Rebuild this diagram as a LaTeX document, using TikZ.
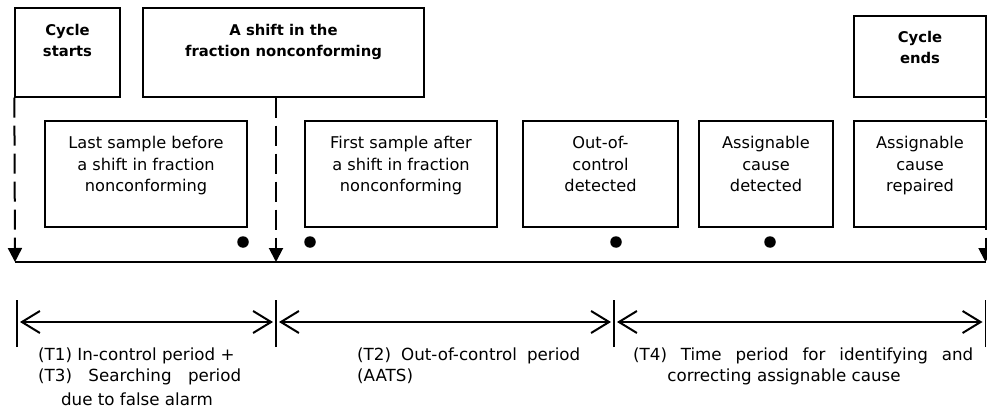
\documentclass[tikz,border=0pt]{standalone}
\usepackage{fontspec}
\setmainfont{DejaVu Sans}
\usetikzlibrary{arrows.meta}
\tikzset{
  box/.style={draw, line width=1.3pt, inner sep=0pt, minimum width=#1},
  boxtxt/.style={anchor=north, inner sep=0pt, align=center, font=\fontsize{16.2}{21.5}\selectfont},
  toptxt/.style={anchor=north, inner sep=0pt, align=center, font=\fontsize{14.8}{21}\selectfont\bfseries},
  dashline/.style={line width=2pt, dash pattern=on 20pt off 8pt, -{Triangle[length=14pt,width=14pt]}},
  axis/.style={line width=1.6pt},
  dot/.style={circle, fill, inner sep=0pt, minimum size=11.5pt},
  bar/.style={line width=1.5pt},
  period/.style={line width=2pt, {Straight Barb[length=18pt,width=22pt,line width=2pt]}-{Straight Barb[length=18pt,width=22pt,line width=2pt]}, shorten <=3pt, shorten >=3pt},
  btxt/.style={inner sep=0pt, font=\fontsize{16.7}{19}\selectfont},
}
\begin{document}
\begin{tikzpicture}[x=1pt,y=-1pt]
\useasboundingbox (0,0) rectangle (987,409);
% top boxes
\node[box=105pt, minimum height=89pt] (cs) at (67.5,52.5) {};
\node[box=281pt, minimum height=89pt] (shift) at (283.5,52.5) {};
\node[box=132pt, minimum height=81pt] (ce) at (920,56.5) {};
\node[toptxt] (cst) at ([yshift=-17pt]cs.north) {Cycle\\starts};
\node[toptxt] (sht) at ([yshift=-17pt]shift.north) {A shift in the\\fraction nonconforming};
\node[toptxt] (cet) at ([yshift=-16pt]ce.north) {Cycle\\ends};
% lower boxes
\node[box=202pt, minimum height=106pt] (lsb) at (146,174) {};
\node[box=192pt, minimum height=106pt] (fsa) at (401,174) {};
\node[box=155pt, minimum height=106pt] (ooc) at (600.5,174) {};
\node[box=134pt, minimum height=106pt] (acd) at (766,174) {};
\node[box=132pt, minimum height=106pt] (acr) at (920,174) {};
\node[boxtxt] (lsbt) at ([yshift=-16pt]lsb.north) {Last sample before\\a shift in fraction\\nonconforming};
\node[boxtxt] (fsat) at ([yshift=-16pt]fsa.north) {First sample after\\a shift in fraction\\nonconforming};
\node[boxtxt] (ooct) at ([yshift=-16pt]ooc.north) {Out-of-\\control\\detected};
\node[boxtxt] (acdt) at ([yshift=-16pt]acd.north) {Assignable\\cause\\detected};
\node[boxtxt] (acrt) at ([yshift=-16pt]acr.north) {Assignable\\cause\\repaired};
% axis
\coordinate (a0) at (15,262);
\coordinate (a1) at (276,262);
\coordinate (a2) at (985.5,262);
\draw[dashline] (cs.south west) -- (a0);
\draw[dashline] (a1 |- shift.south) -- (a1);
\draw[dashline] (a2 |- ce.south) -- (a2);
\draw[axis] (a0) -- (a2);
% dots
\node[dot] (d1) at (243,242) {};
\node[dot] (d2) at (310,242) {};
\node[dot] (d3) at (616,242) {};
\node[dot] (d4) at (770,242) {};
% period bars
\coordinate (b0) at (17,322);
\coordinate (b1) at (276,322);
\coordinate (b2) at (614,322);
\coordinate (b3) at (985.5,322);
\foreach \b in {b0,b1,b2,b3} {\draw[bar] ([yshift=-25pt]\b) -- ([yshift=22pt]\b);}
\draw[period] (b0) -- (b1);
\draw[period] (b1) -- (b2);
\draw[period] (b2) -- (b3);
% period texts
\node[btxt, anchor=base west] (t1) at (38,360) {(T1) In-control period +};
\node[btxt, anchor=base west] (t3) at (38,381) {\makebox[203pt][s]{(T3) Searching period}};
\node[btxt, anchor=base] (t3b) at (137,405) {due to false alarm};
\node[btxt, anchor=base west] (t2) at (357,360) {\makebox[223pt][s]{(T2) Out-of-control period}};
\node[btxt, anchor=base west] (t2b) at (357,381) {(AATS)};
\node[btxt, anchor=base west] (t4) at (633,360) {\makebox[340pt][s]{(T4) Time period for identifying and}};
\node[btxt, anchor=base] (t4b) at (784,381) {correcting assignable cause};
\end{tikzpicture}
\end{document}
